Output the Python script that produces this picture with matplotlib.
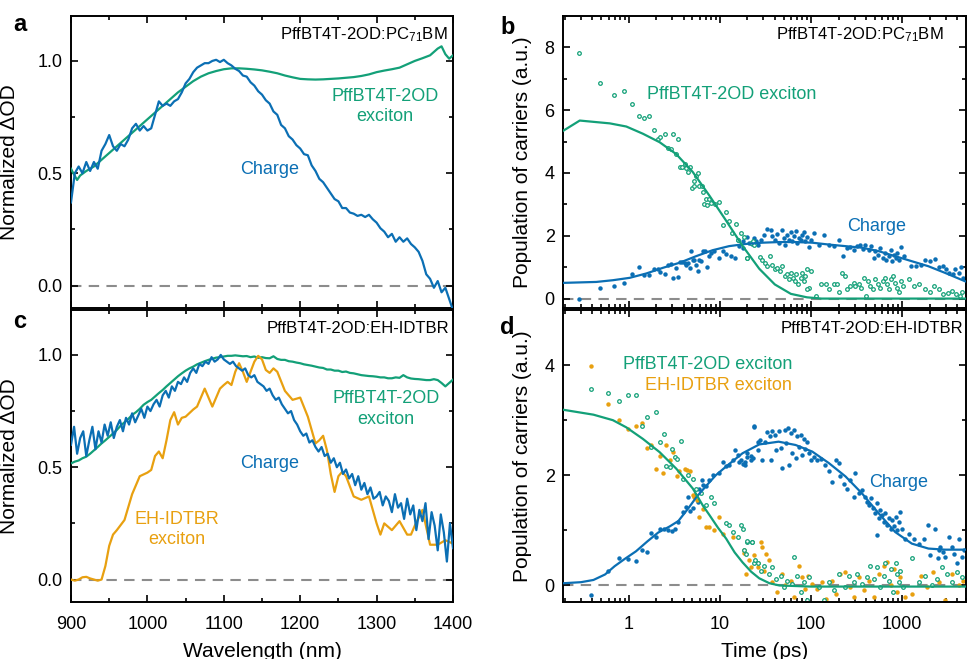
import numpy as np
import matplotlib
matplotlib.use("Agg")
import matplotlib.pyplot as plt
from matplotlib.ticker import MultipleLocator, LogLocator, NullFormatter

plt.rcParams['font.family'] = ['Liberation Sans', 'DejaVu Sans']
plt.rcParams['mathtext.default'] = 'regular'

BLUE = '#0b6fb4'
GREEN = '#13a078'
ORANGE = '#e8a010'
GREY = '#8c8c8c'

# ---------------- panel a : PffBT4T-2OD:PC71BM spectra ----------------
wl_a_charge = np.arange(900, 1401, 5)
a_charge = [0.37, 0.50, 0.53, 0.50, 0.55, 0.51, 0.55, 0.52, 0.60, 0.63,
            0.67, 0.62, 0.60, 0.63, 0.62, 0.65, 0.70, 0.72, 0.69, 0.71,
            0.69, 0.70, 0.76, 0.82, 0.80, 0.81, 0.80, 0.82, 0.83, 0.86,
            0.90, 0.92, 0.95, 0.97, 0.98, 0.99, 0.99, 1.00, 1.005, 0.995,
            1.005, 0.99, 0.98, 0.965, 0.955, 0.935, 0.93, 0.905, 0.89, 0.865,
            0.85, 0.825, 0.81, 0.775, 0.76, 0.715, 0.70, 0.665, 0.65, 0.625,
            0.61, 0.585, 0.58, 0.535, 0.51, 0.475, 0.46, 0.435, 0.41, 0.385,
            0.375, 0.345, 0.345, 0.325, 0.32, 0.31, 0.315, 0.305, 0.315, 0.295,
            0.28, 0.255, 0.24, 0.215, 0.23, 0.195, 0.215, 0.195, 0.21, 0.185,
            0.17, 0.15, 0.11, 0.05, 0.03, -0.01, 0.02, -0.03, -0.01, -0.06,
            -0.11]

wl_a_exc = [900, 903, 908, 912, 920, 930, 940, 950, 960, 970, 980, 990, 1000,
            1010, 1020, 1030, 1040, 1050, 1060, 1070, 1080, 1090, 1100, 1110,
            1120, 1130, 1140, 1150, 1160, 1170, 1180, 1190, 1200, 1210, 1220,
            1230, 1240, 1250, 1260, 1270, 1280, 1290, 1300, 1310, 1320, 1330,
            1340, 1350, 1360, 1370, 1375, 1380, 1385, 1390, 1395, 1400]
a_exc = [0.52, 0.50, 0.47, 0.49, 0.51, 0.53, 0.56, 0.59, 0.62, 0.65, 0.68,
         0.71, 0.74, 0.77, 0.80, 0.83, 0.86, 0.885, 0.91, 0.93, 0.945, 0.955,
         0.963, 0.967, 0.967, 0.965, 0.962, 0.958, 0.952, 0.945, 0.935, 0.927,
         0.920, 0.918, 0.917, 0.918, 0.920, 0.922, 0.925, 0.928, 0.933, 0.94,
         0.95, 0.957, 0.963, 0.97, 0.985, 1.00, 1.012, 1.025, 1.04, 1.055,
         1.065, 1.03, 1.01, 1.025]

# ---------------- panel c : PffBT4T-2OD:EH-IDTBR spectra ----------------
wl_c_charge = np.arange(900, 1401, 4)
c_charge = [0.60, 0.68, 0.56, 0.63, 0.66, 0.55, 0.62, 0.68, 0.58, 0.66,
            0.61, 0.69, 0.64, 0.70, 0.63, 0.68, 0.71, 0.66, 0.72, 0.69,
            0.74, 0.70, 0.73, 0.76, 0.72, 0.77,
            0.75, 0.78, 0.80, 0.77, 0.82, 0.84, 0.81, 0.86, 0.84, 0.88,
            0.87, 0.90, 0.88, 0.92, 0.94, 0.92, 0.96, 0.95, 0.97, 0.96,
            0.99, 0.97, 0.98, 1.00, 0.98,
            0.97, 0.96, 0.97, 0.95, 0.94, 0.93, 0.94, 0.91, 0.90, 0.91,
            0.88, 0.87, 0.86, 0.84, 0.85, 0.82, 0.80, 0.81, 0.78, 0.76,
            0.74, 0.75, 0.71, 0.69, 0.66,
            0.64, 0.65, 0.61, 0.62, 0.59, 0.57, 0.59, 0.55, 0.56, 0.52,
            0.54, 0.50, 0.52, 0.47, 0.49, 0.45, 0.47, 0.42, 0.46, 0.40,
            0.43, 0.38, 0.41, 0.36, 0.37,
            0.39, 0.33, 0.37, 0.35, 0.30, 0.38, 0.32, 0.34, 0.27, 0.36,
            0.29, 0.33, 0.22, 0.31, 0.26, 0.34, 0.18, 0.30, 0.24, 0.13,
            0.29, 0.21, 0.08, 0.25, 0.14]

wl_c_exc = np.arange(900, 1401, 5)
c_exc = [0.517, 0.525, 0.53, 0.54, 0.547, 0.56, 0.575, 0.59, 0.606, 0.62,
         0.635, 0.65, 0.666, 0.685, 0.70, 0.715, 0.733, 0.745, 0.76, 0.778,
         0.79, 0.80, 0.815, 0.83, 0.844, 0.86, 0.875, 0.89, 0.905, 0.918,
         0.93, 0.94, 0.948, 0.958, 0.965, 0.972, 0.978, 0.983, 0.988, 0.99,
         0.993, 0.996, 0.996, 0.998, 0.996, 0.994, 0.995, 0.99, 0.993, 0.987,
         0.99, 0.986, 0.985, 0.994, 0.982, 0.978, 0.978, 0.972, 0.97, 0.966,
         0.963, 0.958, 0.955, 0.952, 0.948, 0.944, 0.942, 0.935, 0.935, 0.93,
         0.93, 0.924, 0.926, 0.92, 0.918, 0.914, 0.91, 0.908, 0.906, 0.905,
         0.903, 0.9, 0.9, 0.896, 0.896, 0.9, 0.898, 0.91, 0.9, 0.895,
         0.893, 0.892, 0.89, 0.888, 0.888, 0.892, 0.888, 0.875, 0.86, 0.875,
         0.89]

wl_c_eh = [900, 905, 910, 915, 920, 925, 930, 935, 940, 945, 950, 955, 960,
           970, 980, 990, 1000, 1005, 1010, 1015, 1020, 1025, 1030, 1035, 1040,
           1045, 1050, 1060, 1065, 1070, 1075, 1080, 1085, 1090, 1095, 1100,
           1105, 1110, 1115, 1120, 1125, 1130, 1135, 1140, 1145, 1150, 1155,
           1160, 1165, 1170, 1180, 1190, 1200, 1210, 1220, 1225, 1230, 1235,
           1240, 1245, 1250, 1255, 1260, 1270, 1280, 1290, 1300, 1305, 1310,
           1320, 1330, 1340, 1345, 1350, 1360, 1370, 1380, 1390, 1400]
c_eh = [0.0, -0.005, 0.0, 0.01, 0.012, 0.005, 0.0, -0.005, 0.0, 0.06, 0.15,
        0.20, 0.22, 0.265, 0.38, 0.46, 0.476, 0.488, 0.55, 0.57, 0.54, 0.62,
        0.71, 0.745, 0.69, 0.72, 0.725, 0.757, 0.77, 0.81, 0.85, 0.81, 0.77,
        0.81, 0.85, 0.866, 0.88, 0.866, 0.925, 0.963, 0.925, 0.88, 0.925,
        0.97, 0.996, 0.98, 0.933, 0.92, 0.94, 0.925, 0.84, 0.80, 0.81, 0.725,
        0.606, 0.62, 0.64, 0.575, 0.47, 0.39, 0.46, 0.48, 0.46, 0.37, 0.355,
        0.37, 0.25, 0.20, 0.25, 0.22, 0.26, 0.20, 0.20, 0.24, 0.31, 0.155,
        0.155, 0.175, 0.16]

# ---------------- panel b : PffBT4T-2OD:PC71BM kinetics ----------------
b_exc_t = [0.284, 0.486, 0.686, 0.88, 1.08, 1.29, 1.48, 1.67, 1.88, 2.11,
           2.18, 2.49, 2.67, 2.87, 3.08, 3.26, 3.46, 3.67, 3.86, 4.09, 4.27,
           4.45, 4.64, 4.92, 5.17, 5.49, 5.77, 5.22, 5.96, 6.37, 6.47, 6.75,
           7.04, 7.22, 7.66, 7.98, 8.84, 9.83, 10.8, 11.7, 12.7, 13.7, 15.0,
           15.9, 17.0, 18.5, 19.8, 21.9, 23.7, 19.6, 22.8, 27.4, 29.3, 31.4,
           33.2, 35.2, 37.6, 40.2, 42.6, 45.1, 48.3, 51.6, 54.7, 57.0, 59.5,
           63.1, 66.3, 68.5, 72.1, 76.6, 79.8, 83.3, 86.8, 90.5, 94.6, 98.9,
           90.5, 114, 127, 147, 159, 178, 194, 202, 218, 233, 247, 269, 293,
           306, 332, 355, 377, 400, 421, 447, 474, 507, 542, 576, 611, 654,
           682, 712, 743, 787, 828, 877, 917, 963, 1013, 1200, 1336, 1513,
           1789, 2027, 2255, 2536, 2826, 3154, 3488, 3858, 4310, 4562]
b_exc_y = [7.81, 6.87, 6.47, 6.61, 6.21, 5.83, 5.75, 5.80, 5.36, 5.09, 5.16,
           5.24, 4.79, 4.75, 5.24, 4.59, 5.07, 4.19, 4.19, 4.30, 4.17, 4.03,
           4.18, 3.51, 3.60, 3.90, 4.01, 3.74, 3.58, 3.60, 3.39, 3.00, 3.18,
           2.98, 3.16, 3.05, 3.00, 3.07, 2.34, 2.75, 2.47, 2.10, 2.36, 1.88,
           2.10, 1.97, 1.30, 1.78, 1.72, 1.28, 1.83, 1.32, 1.24, 1.14, 1.05,
           1.35, 1.08, 0.93, 0.98, 0.87, 1.03, 0.71, 0.77, 0.61, 0.82, 0.66,
           0.55, 0.77, 0.45, 0.66, 0.82, 0.55, 0.71, 0.93, 0.34, 0.87, 0.29,
           0.07, 0.46, 0.45, 0.31, 0.45, 0.48, 0.20, 0.82, 0.73, 0.29, 0.41,
           0.50, 0.39, 0.48, 0.34, 0.66, 0.07, 0.55, 0.41, 0.29, 0.61, 0.48,
           0.34, 0.55, 0.66, 0.45, 0.31, 0.61, 0.71, 0.50, 0.34, 0.20, 0.55,
           0.39, 0.61, 0.41, 0.48, 0.29, 0.20, 0.41, 0.29, 0.13, 0.18, 0.23,
           0.13, 0.07, 0.20]

b_chg_t = [0.284, 0.486, 0.686, 0.88, 1.08, 1.29, 1.48, 1.67, 1.88, 2.11,
           2.18, 2.49, 2.67, 2.87, 3.08, 3.26, 3.46, 3.67, 3.86, 4.09, 4.27,
           4.45, 4.64, 4.84, 5.04, 5.26, 5.49, 5.71, 5.96, 6.22, 6.58, 6.87,
           7.22, 7.66, 8.06, 8.70, 9.83, 10.7, 11.7, 13.2, 14.6, 15.6, 16.3,
           17.7, 20.0, 22.7, 24.8, 17.7, 21.0, 23.7, 25.9, 28.2, 30.6, 33.2,
           36.0, 37.6, 40.2, 42.6, 44.4, 47.4, 50.2, 52.3, 54.7, 57.0, 59.5,
           62.0, 64.7, 67.5, 70.5, 73.6, 76.6, 79.8, 83.3, 86.8, 90.5, 94.6,
           98.9, 107, 122, 138, 156, 178, 202, 223, 247, 269, 293, 318, 347,
           367, 392, 427, 456, 484, 507, 542, 576, 611, 643, 671, 712, 743,
           773, 807, 843, 879, 917, 971, 1040, 1231, 1400, 1594, 1789, 2027,
           2300, 2500, 2770, 3010, 3290, 3560, 3810, 4140, 4420, 4690]
b_chg_y = [0.0, 0.34, 0.41, 0.49, 0.78, 1.02, 0.76, 0.76, 0.95, 0.95, 0.84,
           0.77, 1.07, 1.09, 0.65, 0.98, 0.69, 1.17, 1.18, 1.14, 1.08, 1.14,
           0.98, 1.50, 1.22, 1.24, 1.08, 0.89, 1.24, 1.21, 1.52, 1.52, 1.02,
           1.35, 1.46, 1.50, 1.30, 1.51, 1.42, 1.37, 1.28, 1.85, 1.67, 1.83,
           1.97, 1.75, 1.83, 1.62, 1.78, 1.94, 1.72, 1.88, 2.04, 2.22, 2.18,
           1.99, 1.86, 2.07, 1.78, 2.18, 1.94, 1.72, 2.04, 1.88, 2.11, 1.83,
           1.99, 2.15, 1.78, 1.94, 1.88, 2.04, 2.11, 1.83, 1.97, 1.65, 1.88,
           2.10, 1.72, 2.04, 1.72, 1.67, 1.85, 1.37, 1.62, 1.65, 1.56, 1.69,
           1.72, 1.59, 1.72, 1.54, 1.67, 1.30, 1.51, 1.40, 1.62, 1.30, 1.46,
           1.24, 1.35, 1.56, 1.19, 1.40, 1.30, 1.46, 1.24, 1.65, 1.35, 1.05,
           1.05, 1.08, 1.24, 1.19, 1.27, 1.01, 1.05, 0.93, 0.82, 0.77, 0.93,
           0.82, 1.01, 0.66]

b_fit_exc_t = [0.19, 0.29, 0.62, 0.94, 1.43, 2.18, 3.32, 5.04, 7.66, 11.7,
               17.7, 27, 40, 60, 90, 130, 5000]
b_fit_exc = [5.34, 5.67, 5.58, 5.48, 5.25, 4.98, 4.60, 4.03, 3.28, 2.48,
             1.68, 0.95, 0.45, 0.15, 0.04, 0.0, 0.0]
b_fit_chg_t = [0.19, 0.44, 0.67, 1.02, 1.56, 2.37, 3.6, 5.47, 8.3, 12.6,
               19.2, 29.2, 44.4, 67.5, 103, 157, 238, 362, 551, 836, 1272,
               1934, 2940, 4900]
b_fit_chg = [0.50, 0.53, 0.585, 0.66, 0.80, 0.98, 1.14, 1.35, 1.54, 1.67,
             1.74, 1.78, 1.80, 1.80, 1.78, 1.72, 1.67, 1.62, 1.51, 1.35, 1.19,
             1.03, 0.82, 0.55]

# ---------------- panel d : PffBT4T-2OD:EH-IDTBR kinetics ----------------
d_pff_t = [0.385, 0.585, 0.784, 0.98, 1.19, 1.58, 1.97, 1.38, 1.77, 2.18,
           2.41, 3.0, 3.18, 3.76, 2.58, 2.85, 3.37, 3.98, 4.45, 5.04, 5.49,
           6.22, 7.04, 7.98, 8.70, 11.7, 12.7, 13.8, 17.0, 15.6, 20.0, 22.4,
           18.5, 19.3, 23.7, 17.7, 20.0, 22.7, 24.4, 25.9, 28.2, 30.6, 34.6,
           37.6, 40.9, 46.5, 50.2, 54.7, 62.0, 64.7, 70.5, 76.6, 83.3, 90.5,
           94.6, 122, 138, 156, 178, 202, 233, 263, 293, 318, 361, 410, 447,
           484, 528, 576, 627, 654, 712, 743, 787, 843, 879, 917, 953, 1013,
           1277, 1513, 1789, 2120, 2390, 2720, 3090, 3490, 3950, 4470]
d_pff_y = [3.56, 3.50, 3.34, 3.45, 3.46, 3.06, 3.15, 2.90, 2.51, 2.60, 2.75,
           2.47, 2.34, 2.63, 2.17, 2.15, 2.29, 1.93, 2.01, 1.93, 1.76, 1.68,
           1.46, 1.61, 1.49, 1.13, 1.09, 0.97, 1.09, 0.88, 0.79, 0.79, 0.64,
           0.58, 0.40, 1.02, 0.81, 0.79, 0.47, 0.40, 0.27, 0.36, 0.20, 0.33,
           0.12, 0.18, -0.03, 0.09, 0.03, 0.52, 0.18, -0.12, 0.06, -0.27,
           0.15, -0.03, -0.27, 0.06, -0.09, 0.21, -0.03, 0.18, 0.06, 0.21,
           0.03, 0.15, 0.36, 0.12, 0.33, -0.03, 0.18, 0.40, 0.09, 0.30, -0.12,
           0.40, 0.21, 0.06, 0.27, -0.03, 0.49, 0.06, 0.18, 0.0, 0.12, 0.33,
           0.21, 0.06, 0.24, 0.15]

d_eh_t = [0.385, 0.585, 0.784, 0.98, 1.19, 1.38, 1.58, 1.77, 1.97, 2.18,
          2.37, 2.58, 2.8, 3.05, 3.37, 3.6, 4.09, 4.33, 4.72, 5.04, 5.26,
          5.58, 5.96, 6.47, 7.04, 7.52, 8.70, 9.83, 10.7, 13.8, 18.5, 21.0,
          21.9, 19.3, 25.9, 18.5, 23.7, 28.2, 29.3, 32.0, 34.6, 25.9, 30.6,
          37.6, 42.6, 48.4, 52.3, 59.5, 64.7, 73.6, 79.8, 86.8, 92.5, 103,
          116, 133, 146, 170, 186, 210, 236, 269, 293, 332, 377, 427, 484,
          555, 627, 682, 743, 807, 879, 953, 1067, 1277, 1594, 1880, 2200,
          2500, 2960, 3490, 4140, 4690]
d_eh_y = [3.99, 3.30, 3.01, 2.84, 2.89, 2.95, 2.49, 2.55, 2.11, 2.35, 2.04,
          2.55, 2.27, 2.43, 1.99, 2.08, 2.11, 2.10, 2.07, 1.64, 1.61, 1.55,
          1.25, 1.38, 1.06, 1.06, 1.00, 1.25, 0.94, 0.88, 0.59, 0.46, 0.33,
          0.21, 0.40, 0.65, 0.55, 0.79, 0.70, 0.57, 0.46, 0.33, 0.27, 0.06,
          -0.12, 0.21, 0.0, 0.09, -0.21, 0.36, 0.15, -0.06, 0.18, 0.03, -0.06,
          0.06, -0.24, 0.09, -0.15, 0.21, 0.24, -0.03, -0.21, 0.15, -0.09,
          0.09, -0.21, 0.21, 0.36, 0.43, 0.0, 0.30, -0.12, 0.15, -0.21, -0.15,
          0.18, -0.03, 0.24, 0.06, -0.27, 0.21, 0.0, 0.09]

d_chg_t = [0.385, 0.585, 0.784, 0.98, 1.19, 1.38, 1.58, 1.77, 1.97, 2.18,
           2.41, 2.69, 3.0, 3.18, 3.46, 3.92, 4.27, 4.45, 4.72, 5.04, 5.39,
           5.71, 5.96, 6.37, 6.58, 7.04, 7.52, 8.33, 9.68, 10.7, 11.7, 12.7,
           13.8, 14.7, 15.6, 17.0, 17.7, 18.9, 20.0, 21.9, 23.2, 23.7, 25.9,
           16.3, 18.9, 20.0, 21.9, 23.7, 25.9, 27.5, 29.3, 31.4, 33.2, 35.2,
           36.0, 37.6, 40.2, 41.6, 43.9, 46.5, 48.4, 51.6, 53.3, 57.0, 56.1,
           59.5, 62.0, 64.7, 67.5, 70.5, 73.6, 76.6, 79.8, 83.3, 86.8, 90.5,
           94.6, 98.9, 107, 116, 127, 141, 156, 170, 186, 202, 210, 228, 247,
           269, 300, 293, 332, 361, 386, 410, 433, 456, 474, 500, 528, 555,
           576, 598, 528, 627, 654, 682, 712, 743, 773, 807, 843, 879, 917,
           953, 996, 1067, 1182, 1336, 1513, 1711, 1936, 2027, 2300, 2500,
           2770, 2960, 3220, 3490, 3730, 3950, 4190, 4470, 4770, 2460, 2600]
d_chg_y = [-0.17, 0.26, 0.50, 0.48, 0.44, 0.65, 0.60, 0.96, 0.88, 1.02,
           1.02, 1.00, 0.99, 1.02, 1.15, 1.34, 1.43, 1.61, 1.36, 1.40, 1.64,
           1.52, 1.76, 1.91, 1.82, 1.81, 1.91, 2.01, 2.05, 2.25, 2.16, 2.19,
           2.28, 2.45, 2.37, 2.28, 2.21, 2.25, 2.34, 2.28, 2.31, 2.89, 2.61,
           2.25, 2.19, 2.40, 2.35, 2.88, 2.46, 2.64, 2.28, 2.61, 2.78, 2.71,
           2.28, 2.80, 2.74, 2.46, 2.80, 2.49, 2.13, 2.83, 2.58, 2.19, 2.86,
           2.77, 2.40, 2.83, 2.31, 2.71, 2.52, 2.74, 2.37, 2.66, 2.47, 2.61,
           2.40, 2.28, 2.34, 2.27, 2.29, 2.19, 2.07, 1.88, 2.28, 2.23, 1.98,
           1.85, 1.76, 1.91, 2.05, 1.61, 1.67, 1.73, 1.61, 1.52, 1.46, 1.58,
           1.40, 1.31, 1.49, 1.22, 1.37, 1.28, 0.91, 1.15, 1.31, 1.09, 1.22,
           1.03, 1.19, 1.08, 1.25, 1.00, 1.15, 1.34, 1.03, 0.85, 0.94, 0.85,
           0.76, 0.85, 1.09, 0.55, 1.03, 0.64, 0.61, 0.52, 0.88, 0.70, 0.58,
           0.40, 0.85, 0.52, 0.64, 0.49, 0.70]

d_fit_pff_t = [0.19, 0.41, 0.67, 0.94, 1.43, 2.18, 3.32, 5.04, 6.5, 7.66,
               9.5, 11.7, 14.5, 17.7, 22, 27, 35, 45, 100, 5000]
d_fit_pff = [3.19, 3.10, 3.00, 2.87, 2.66, 2.42, 2.12, 1.76, 1.45, 1.28,
             1.05, 0.85, 0.60, 0.42, 0.25, 0.13, 0.04, 0.0, -0.02, -0.02]
d_fit_chg_t = [0.19, 0.3, 0.41, 0.55, 0.7, 0.9, 1.2, 1.6, 2.1, 2.8, 3.5, 4.5,
               5.5, 7, 9, 11.7, 17.7, 27, 44, 67.5, 103, 157, 238, 362, 551,
               836, 1272, 1934, 2940, 4900]
d_fit_chg = [0.04, 0.06, 0.10, 0.20, 0.35, 0.48, 0.62, 0.80, 0.96, 1.07,
             1.17, 1.40, 1.60, 1.80, 2.00, 2.16, 2.40, 2.56, 2.61, 2.55, 2.43,
             2.22, 1.98, 1.67, 1.31, 0.97, 0.76, 0.67, 0.65, 0.65]

# ---------------- figure ----------------
fig = plt.figure(figsize=(9.67, 6.59), dpi=100)
L1, W1 = 71 / 967, 382 / 967
L2, W2 = 563 / 967, 403 / 967
H = 292 / 659
ax_a = fig.add_axes([L1, 351 / 659, W1, H])
ax_c = fig.add_axes([L1, 57 / 659, W1, H])
ax_b = fig.add_axes([L2, 351 / 659, W2, H])
ax_d = fig.add_axes([L2, 57 / 659, W2, H])


def style(ax):
    for s in ax.spines.values():
        s.set_linewidth(1.4)
    ax.tick_params(which='both', direction='in', top=True, right=True,
                   width=1.2, labelsize=13, pad=6)
    ax.tick_params(which='major', length=5)
    ax.tick_params(which='minor', length=2.8)


lw = 1.6
dash = dict(color=GREY, lw=1.5, ls=(0, (5, 3.5)), zorder=1)

# panel a
ax_a.axhline(0, **dash)
ax_a.plot(wl_a_exc, a_exc, color=GREEN, lw=lw, zorder=3)
ax_a.plot(wl_a_charge, a_charge, color=BLUE, lw=lw, zorder=4)
# panel c
ax_c.axhline(0, **dash)
ax_c.plot(wl_c_exc, c_exc, color=GREEN, lw=lw, zorder=3)
ax_c.plot(wl_c_eh, c_eh, color=ORANGE, lw=lw, zorder=3)
ax_c.plot(wl_c_charge, c_charge, color=BLUE, lw=lw, zorder=4)

for ax in (ax_a, ax_c):
    style(ax)
    ax.set_xlim(900, 1400)
    ax.set_ylim(-0.1, 1.2)
    ax.xaxis.set_major_locator(MultipleLocator(100))
    ax.xaxis.set_minor_locator(MultipleLocator(50))
    ax.yaxis.set_major_locator(MultipleLocator(0.5))
    ax.yaxis.set_minor_locator(MultipleLocator(0.25))
    ax.yaxis.set_major_formatter(matplotlib.ticker.FormatStrFormatter('%.1f'))
    ax.set_ylabel('Normalized ΔOD', fontsize=15)
    ax.yaxis.set_label_coords(-0.135, 0.5)
ax_a.tick_params(labelbottom=False)
ax_c.set_xlabel('Wavelength (nm)', fontsize=15, labelpad=6.5)
ax_c.tick_params(axis='x', pad=10)

# panel b
ms = 3.2
ax_b.axhline(0, **dash)
ax_b.plot(b_chg_t, b_chg_y, 'o', ms=ms, color=BLUE, mec='none', zorder=2)
ax_b.plot(b_exc_t, b_exc_y, 'o', ms=2.6, mfc='white', mec=GREEN, mew=0.9, zorder=2)
ax_b.plot(b_fit_chg_t, b_fit_chg, color=BLUE, lw=lw, zorder=4)
ax_b.plot(b_fit_exc_t, b_fit_exc, color=GREEN, lw=lw, zorder=4)

# panel d
ax_d.axhline(0, **dash)
ax_d.plot(d_chg_t, d_chg_y, 'o', ms=ms, color=BLUE, mec='none', zorder=2)
ax_d.plot(d_eh_t, d_eh_y, 'o', ms=ms, color=ORANGE, mec='none', zorder=2)
ax_d.plot(d_pff_t, d_pff_y, 'o', ms=2.6, mfc='white', mec=GREEN, mew=0.9, zorder=2)
ax_d.plot(d_fit_chg_t, d_fit_chg, color=BLUE, lw=lw, zorder=4)
ax_d.plot(d_fit_pff_t, d_fit_pff, color=GREEN, lw=lw, zorder=4)

for ax in (ax_b, ax_d):
    style(ax)
    ax.set_xscale('log')
    ax.set_xlim(0.19, 5000)
    ax.set_xticks([1, 10, 100, 1000])
    ax.set_xticklabels(['1', '10', '100', '1000'])
    ax.xaxis.set_minor_locator(LogLocator(base=10, subs=np.arange(2, 10), numticks=20))
    ax.xaxis.set_minor_formatter(NullFormatter())
    ax.yaxis.set_major_locator(MultipleLocator(2))
    ax.yaxis.set_minor_locator(MultipleLocator(1))
    ax.set_ylabel('Population of carriers (a.u.)', fontsize=15)
    ax.yaxis.set_label_coords(-0.077, 0.5)
ax_b.set_ylim(-0.3, 9)
ax_d.set_ylim(-0.3, 5)
ax_b.tick_params(labelbottom=False)
ax_d.set_xlabel('Time (ps)', fontsize=15, labelpad=6.5)
ax_d.tick_params(axis='x', pad=10)

# titles inside panels
tkw = dict(fontsize=12, ha='right', va='center')
ax_a.text(0.987, 0.935, 'PffBT4T-2OD:PC$_{71}$BM', transform=ax_a.transAxes, **tkw)
ax_b.text(0.945, 0.935, 'PffBT4T-2OD:PC$_{71}$BM', transform=ax_b.transAxes, **tkw)
ax_c.text(0.99, 0.935, 'PffBT4T-2OD:EH-IDTBR', transform=ax_c.transAxes, **tkw)
ax_d.text(0.993, 0.935, 'PffBT4T-2OD:EH-IDTBR', transform=ax_d.transAxes, **tkw)

# curve labels
akw = dict(fontsize=13, ha='center', va='center', linespacing=1.25)
ax_a.text(0.822, 0.691, 'PffBT4T-2OD\nexciton', color=GREEN, transform=ax_a.transAxes, **akw)
ax_a.text(0.521, 0.474, 'Charge', color=BLUE, transform=ax_a.transAxes, **akw)
ax_b.text(0.419, 0.732, 'PffBT4T-2OD exciton', color=GREEN, transform=ax_b.transAxes, **akw)
ax_b.text(0.779, 0.278, 'Charge', color=BLUE, transform=ax_b.transAxes, **akw)
ax_c.text(0.825, 0.661, 'PffBT4T-2OD\nexciton', color=GREEN, transform=ax_c.transAxes, **akw)
ax_c.text(0.521, 0.476, 'Charge', color=BLUE, transform=ax_c.transAxes, **akw)
ax_c.text(0.277, 0.248, 'EH-IDTBR\nexciton', color=ORANGE, transform=ax_c.transAxes, **akw)
ax_d.text(0.568, 0.812, 'PffBT4T-2OD exciton', color=GREEN, transform=ax_d.transAxes,
          fontsize=13, ha='right', va='center')
ax_d.text(0.568, 0.743, 'EH-IDTBR exciton', color=ORANGE, transform=ax_d.transAxes,
          fontsize=13, ha='right', va='center')
ax_d.text(0.834, 0.408, 'Charge', color=BLUE, transform=ax_d.transAxes, **akw)

# panel letters
lkw = dict(fontsize=17, fontweight='bold', va='baseline', ha='left')
fig.text(13 / 967, 1 - 31 / 659, 'a', **lkw)
fig.text(500 / 967, 1 - 34 / 659, 'b', **lkw)
fig.text(13 / 967, 1 - 328 / 659, 'c', **lkw)
fig.text(500 / 967, 1 - 334 / 659, 'd', **lkw)

fig.savefig('out.png', dpi=100)
